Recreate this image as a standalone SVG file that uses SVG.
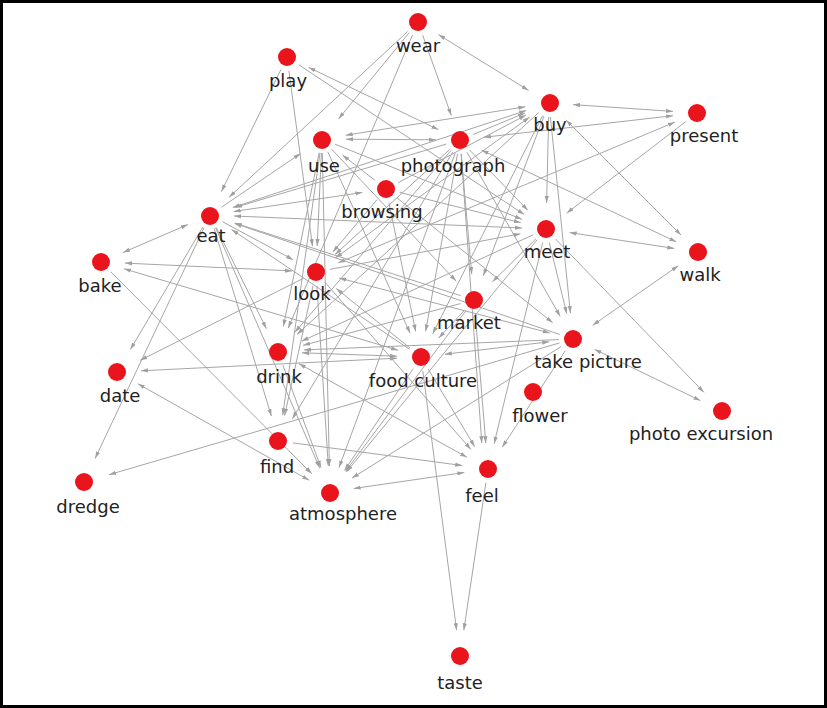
<svg xmlns="http://www.w3.org/2000/svg" width="827" height="708" viewBox="0 0 827 708">
<style>
.e{stroke:#a6a6a6;stroke-width:1;fill:none;marker-end:url(#ah)}
.d{stroke:#a6a6a6;stroke-width:1;fill:none;marker-start:url(#ah);marker-end:url(#ah)}
.n circle{fill:#ea141c}
.n text{font-family:"DejaVu Sans","Liberation Sans",sans-serif;font-size:18px;fill:#222;text-anchor:middle}
</style>
<defs>
<marker id="ah" viewBox="0 0 10 10" refX="10" refY="5" markerWidth="7" markerHeight="7" markerUnits="userSpaceOnUse" orient="auto-start-reverse">
<path d="M0,2 L10,5 L0,8 z" fill="#a0a0a0"/>
</marker>
</defs>
<rect x="0" y="0" width="827" height="708" fill="#fff"/>
<rect x="1.5" y="1.5" width="824" height="705" fill="none" stroke="#000" stroke-width="3"/>
<g id="connectors">
<path class="d" d="M438.4,34.6 L528.6,90.4"/>
<path class="e" d="M422.7,35.2 L451.3,115.5"/>
<path class="e" d="M409.1,32.8 L338.5,118.9"/>
<path class="e" d="M407.7,31.5 L229.1,197.3"/>
<path class="e" d="M412.5,34.9 L288.2,328.1"/>
<path class="e" d="M280.9,69.6 L221.4,191.6"/>
<path class="d" d="M308.6,67.4 L438.4,129.6"/>
<path class="e" d="M298.7,64.7 L524.3,214.6"/>
<path class="e" d="M288.9,70.9 L312.5,246.2"/>
<path class="d" d="M573,104.6 L673,111.4"/>
<path class="e" d="M548.7,117 L546.6,203"/>
<path class="e" d="M550.4,116.9 L570.4,313.1"/>
<path class="d" d="M566,120 L681,235"/>
<path class="e" d="M544,116.1 L483.3,275.7"/>
<path class="e" d="M542.7,115.5 L432.7,333.8"/>
<path class="d" d="M335.4,257.9 L529.6,117.1"/>
<path class="e" d="M538.7,112.5 L297.1,334.4"/>
<path class="d" d="M345.7,135.2 L525.3,106.8"/>
<path class="d" d="M346,139.2 L436,139.8"/>
<path class="e" d="M472.9,134.6 L525,113"/>
<path class="e" d="M398.4,182.5 L526,115.1"/>
<path class="d" d="M232.8,207.5 L526.2,110.5"/>
<path class="d" d="M673.1,115.7 L483.9,137.3"/>
<path class="d" d="M674.8,122.2 L338.2,262.8"/>
<path class="e" d="M685.9,121.5 L566.6,213.2"/>
<path class="d" d="M569.7,232.6 L674.3,248.4"/>
<path class="d" d="M481.7,150.2 L676.3,241.8"/>
<path class="d" d="M678.3,265.7 L592.7,325.3"/>
<path class="e" d="M555.7,239.1 L703.9,392.3"/>
<path class="d" d="M594.6,349.4 L700.4,400.6"/>
<path class="e" d="M375,180.4 L342.5,155"/>
<path class="e" d="M221.6,207.1 L300.5,153.6"/>
<path class="d" d="M233.7,211.5 L362.3,192.5"/>
<path class="d" d="M234,216 L522,228"/>
<path class="e" d="M321.4,153 L317.2,246"/>
<path class="e" d="M319.2,152.7 L283.3,326.5"/>
<path class="e" d="M320,152.9 L282.7,415.3"/>
<path class="e" d="M331.6,149.2 L456.1,281.1"/>
<path class="e" d="M377,199.7 L332.8,252.1"/>
<path class="e" d="M222.3,221.6 L293.1,259.7"/>
<path class="e" d="M446.6,144 L234.9,207.5"/>
<path class="e" d="M559.8,334.5 L234.6,223.4"/>
<path class="e" d="M409.4,349.2 L231.6,229.5"/>
<path class="e" d="M460.7,295.7 L234.8,223"/>
<path class="d" d="M123,252.5 L188,224.5"/>
<path class="d" d="M125,263.1 L292,270.9"/>
<path class="d" d="M124,268.8 L398,350.2"/>
<path class="e" d="M110.9,271.9 L311.7,473.6"/>
<path class="e" d="M202.9,227 L130.3,349.6"/>
<path class="e" d="M204,227.7 L95.1,458.5"/>
<path class="e" d="M303.5,278.3 L140.2,360.3"/>
<path class="d" d="M141,370.8 L397,358.2"/>
<path class="d" d="M137.9,383.8 L309.1,480.2"/>
<path class="e" d="M559.6,342.9 L109,474.7"/>
<path class="e" d="M288.9,450.9 L311.6,473.6"/>
<path class="e" d="M214.1,228.4 L271.4,416.1"/>
<path class="e" d="M216.2,227.5 L266.4,328.7"/>
<path class="e" d="M215.6,227.9 L319.7,468.1"/>
<path class="d" d="M397,356.2 L302,352.8"/>
<path class="e" d="M559,339.6 L304,349.9"/>
<path class="d" d="M299,363.7 L467,457.3"/>
<path class="e" d="M292.9,442.9 L462.2,465.5"/>
<path class="d" d="M353.7,488.5 L464.3,472.5"/>
<path class="e" d="M422.8,370.9 L456.6,630.2"/>
<path class="e" d="M485.9,482.8 L463.8,630.3"/>
<path class="e" d="M475.2,313.9 L485.8,443.1"/>
<path class="e" d="M542.7,242.6 L494.1,443.7"/>
<path class="e" d="M565.3,350.7 L502.2,447.2"/>
<path class="e" d="M325.2,282.5 L470.9,449.4"/>
<path class="e" d="M428.2,369 L474.7,446.7"/>
<path class="e" d="M461.2,153.9 L481.8,443.1"/>
<path class="e" d="M282.9,365.1 L321,467.6"/>
<path class="e" d="M316.9,286 L328.3,466"/>
<path class="e" d="M322.3,153 L329.4,466"/>
<path class="e" d="M455.2,153.1 L339,467.6"/>
<path class="e" d="M465.6,311.2 L345.6,471.2"/>
<path class="e" d="M561.2,346.5 L352,478.1"/>
<path class="e" d="M537.1,239.8 L346.5,471.9"/>
<path class="e" d="M388.9,202.7 L415.7,331.5"/>
<path class="e" d="M457.5,153.8 L425.6,331.4"/>
<path class="e" d="M327.8,151.8 L410.2,333.3"/>
<path class="d" d="M444.8,354.2 L549.2,341.8"/>
<path class="d" d="M339.2,278 L549.8,333"/>
<path class="e" d="M396.9,197.8 L552.7,322.7"/>
<path class="e" d="M466.9,152.2 L560.2,316.4"/>
<path class="e" d="M549.3,242.6 L566.8,313.8"/>
<path class="e" d="M461.2,153.9 L471.7,274.1"/>
<path class="e" d="M536,238.8 L492.5,281.7"/>
<path class="e" d="M469.7,150.1 L527.9,210.3"/>
<path class="e" d="M399.6,192.4 L520.8,222.7"/>
<path class="e" d="M329.8,269.4 L520.4,233.8"/>
<path class="e" d="M335,144.2 L521.9,219.3"/>
<path class="e" d="M449.7,149.5 L335.2,254.4"/>
<path class="e" d="M450.9,150.6 L294.9,332.3"/>
<path class="e" d="M452.8,152 L292.4,418.7"/>
<path class="e" d="M533.3,234.8 L301.6,341.2"/>
<path class="e" d="M460.5,303.6 L303.1,345.3"/>
<path class="e" d="M313,285.7 L284.6,415.6"/>
<path class="e" d="M410.1,348.2 L336.2,288.4"/>
<path class="e" d="M413.2,368.6 L344.5,470.4"/>
<path class="e" d="M464.5,310.3 L438.7,338"/>
</g>
<g id="node-wear" class="n"><circle cx="418" cy="22" r="9"/><text x="418" y="52">wear</text></g>
<g id="node-play" class="n"><circle cx="287" cy="57" r="9"/><text x="288" y="87">play</text></g>
<g id="node-buy" class="n"><circle cx="550" cy="103" r="9"/><text x="550" y="131">buy</text></g>
<g id="node-present" class="n"><circle cx="697" cy="113" r="9"/><text x="704" y="142">present</text></g>
<g id="node-use" class="n"><circle cx="322" cy="140" r="9"/><text x="324" y="172">use</text></g>
<g id="node-photograph" class="n"><circle cx="460" cy="140" r="9"/><text x="453" y="172">photograph</text></g>
<g id="node-browsing" class="n"><circle cx="386" cy="189" r="9"/><text x="382" y="218">browsing</text></g>
<g id="node-eat" class="n"><circle cx="210" cy="216" r="9"/><text x="211" y="242">eat</text></g>
<g id="node-meet" class="n"><circle cx="546" cy="229" r="9"/><text x="547" y="258">meet</text></g>
<g id="node-walk" class="n"><circle cx="698" cy="252" r="9"/><text x="700" y="281">walk</text></g>
<g id="node-bake" class="n"><circle cx="101" cy="262" r="9"/><text x="100" y="292">bake</text></g>
<g id="node-look" class="n"><circle cx="316" cy="272" r="9"/><text x="312" y="300">look</text></g>
<g id="node-market" class="n"><circle cx="474" cy="300" r="9"/><text x="469" y="329">market</text></g>
<g id="node-take-picture" class="n"><circle cx="573" cy="339" r="9"/><text x="588" y="368">take picture</text></g>
<g id="node-drink" class="n"><circle cx="278" cy="352" r="9"/><text x="279" y="383">drink</text></g>
<g id="node-food-culture" class="n"><circle cx="421" cy="357" r="9"/><text x="423" y="387">food culture</text></g>
<g id="node-date" class="n"><circle cx="117" cy="372" r="9"/><text x="120" y="402">date</text></g>
<g id="node-flower" class="n"><circle cx="533" cy="392" r="9"/><text x="540" y="422">flower</text></g>
<g id="node-photo-excursion" class="n"><circle cx="722" cy="411" r="9"/><text x="701" y="440">photo excursion</text></g>
<g id="node-find" class="n"><circle cx="278" cy="441" r="9"/><text x="277" y="473">find</text></g>
<g id="node-feel" class="n"><circle cx="488" cy="469" r="9"/><text x="482" y="502">feel</text></g>
<g id="node-dredge" class="n"><circle cx="84" cy="482" r="9"/><text x="88" y="513">dredge</text></g>
<g id="node-atmosphere" class="n"><circle cx="330" cy="493" r="9"/><text x="343" y="520">atmosphere</text></g>
<g id="node-taste" class="n"><circle cx="460" cy="656" r="9"/><text x="460" y="689">taste</text></g>
</svg>
